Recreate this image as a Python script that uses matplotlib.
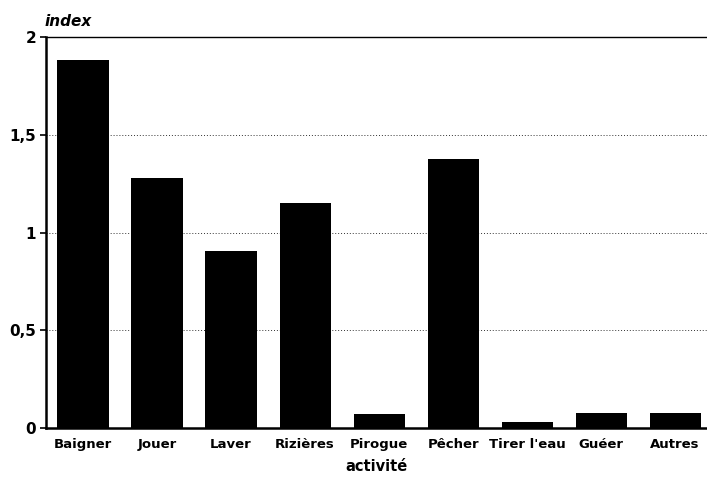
import matplotlib
matplotlib.use("Agg")
import matplotlib.pyplot as plt

categories = ["Baigner", "Jouer", "Laver", "Rizières", "Pirogue", "Pêcher", "Tirer l'eau", "Guéer", "Autres"]
values = [1.88, 1.28, 0.905, 1.15, 0.07, 1.375, 0.03, 0.075, 0.077]
yticks = [0, 0.5, 1, 1.5, 2]
ytick_labels = ["0", "0,5", "1", "1,5", "2"]

plt.rcParams['font.family'] = ['DejaVu Sans']
fig = plt.figure(figsize=(7.07, 4.8), dpi=100)
ax = fig.add_axes([0.065, 0.108, 0.935, 0.815])

x = list(range(len(categories)))
ax.bar(x, values, width=0.69, color="black", zorder=3)

ax.set_xlim(-0.5, 8.43)
ax.set_ylim(0, 2)
ax.set_yticks(yticks)
ax.set_yticklabels(ytick_labels, fontsize=11, fontweight="heavy")
ax.set_xticks(x)
ax.set_xticklabels(categories, fontsize=9.5, fontweight="heavy")
ax.tick_params(axis="x", length=0, pad=7)
ax.tick_params(axis="y", length=4, width=1.2, direction="out", pad=3)

for yv in [0.5, 1, 1.5]:
    ax.axhline(yv, color="#333333", lw=0.7, ls=(0, (1, 2)), zorder=1)

for s in ["left", "bottom"]:
    ax.spines[s].set_linewidth(1.8)
ax.spines["top"].set_linewidth(1.0)
ax.spines["right"].set_visible(False)

ax.set_xlabel("activité", fontsize=10.5, fontweight="heavy", labelpad=6)
fig.text(0.063, 0.955, "index", fontsize=11, fontweight="heavy", style="italic", ha="left", va="center")

fig.savefig("out.png", dpi=100)
